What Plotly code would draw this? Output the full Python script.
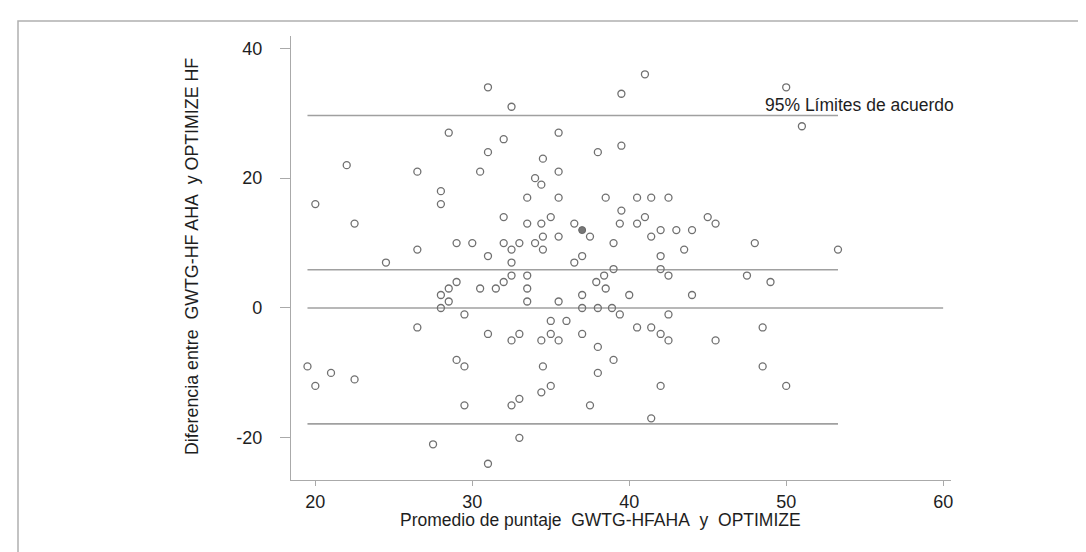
import plotly.graph_objects as go

# Bland-Altman data: average score (x) and difference (y)
avg_score = [31, 28.5, 32, 31, 22, 26.5, 30.5, 41, 39.5, 32.5, 35.5, 34.5, 38, 39.5, 35.5, 34,
             50, 51, 28, 28, 20, 32, 22.5, 32, 29, 30, 31, 26.5, 24.5, 29, 28.5, 28, 28.5, 28,
             30.5, 31.5, 32, 29.5, 34.4, 33.5, 35.5, 38.5, 40.5, 41.4, 42.5, 39.5, 41, 45,
             33.5, 34.4, 35, 36.5, 39.4, 40.5, 37.5, 34.5, 35.5, 42, 43, 44, 41.4, 32.5,
             33, 34, 34.5, 39, 43.5, 42, 32.5, 37, 36.5, 39, 42, 42.5, 32.5, 33.5, 38.4, 37.9,
             38.5, 33.5, 40, 44, 37, 33.5, 35.5, 37, 38, 38.9, 39.4, 42.5, 45.5, 48, 53.3,
             47.5, 49, 26.5, 31, 19.5, 21, 20, 22.5, 29, 29.5, 29.5, 27.5, 31, 35, 36, 33,
             32.5, 35, 34.4, 35.5, 37, 40.5, 41.4, 42, 42.5, 38, 39, 38, 34.5, 35, 34.4, 33,
             32.5, 37.5, 42, 41.4, 33, 48.5, 45.5, 48.5, 50]
diff_score = [34, 27, 26, 24, 22, 21, 21, 36, 33, 31, 27, 23, 24, 25, 21, 20,
              34, 28, 18, 16, 16, 14, 13, 10, 10, 10, 8, 9, 7, 4, 3, 2, 1, 0,
              3, 3, 4, -1, 19, 17, 17, 17, 17, 17, 17, 15, 14, 14,
              13, 13, 14, 13, 13, 13, 11, 11, 11, 12, 12, 12, 11, 9,
              10, 10, 9, 10, 9, 8, 7, 8, 7, 6, 6, 5, 5, 5, 5, 4,
              3, 3, 2, 2, 2, 1, 1, 0, 0, 0, -1, -1, 13, 10, 9,
              5, 4, -3, -4, -9, -10, -12, -11, -8, -9, -15, -21, -24, -2, -2, -4,
              -5, -4, -5, -5, -4, -3, -3, -4, -5, -6, -8, -10, -9, -12, -13, -14,
              -15, -15, -12, -17, -20, -3, -5, -9, -12]
# highlighted (filled) point
filled_x = [37]
filled_y = [12]

mean_diff = 5.9
upper_loa = 29.65
lower_loa = -17.85
zero_line_end = 60

x_ticks = [20, 30, 40, 50, 60]
y_ticks = [-20, 0, 20, 40]
y_tick_labels = ["-20", "0", "20", "40"]

x_title = "Promedio de puntaje\u00a0\u00a0GWTG-HFAHA\u00a0\u00a0y\u00a0\u00a0OPTIMIZE"
y_title = "Diferencia entre\u00a0\u00a0GWTG-HF AHA\u00a0\u00a0y OPTIMIZE HF"
loa_label = "95% Límites de acuerdo"

FONT = "Liberation Sans, Arial, sans-serif"
LINE_C = "#a0a0a0"
AXIS_C = "#aaaaaa"
TXT_C = "#1e1e1e"

x_min = min(avg_score)
x_max = max(avg_score)

fig = go.Figure()

# reference lines
for yv, xend in [(upper_loa, x_max), (mean_diff, x_max), (lower_loa, x_max), (0, zero_line_end)]:
    fig.add_trace(go.Scatter(x=[x_min, xend], y=[yv, yv], mode="lines",
                             line=dict(color=LINE_C, width=1.6), hoverinfo="skip",
                             showlegend=False))

fig.add_trace(go.Scatter(x=avg_score, y=diff_score, mode="markers",
                         marker=dict(symbol="circle-open", size=7,
                                     line=dict(color="#707070", width=1.3), color="#707070"),
                         showlegend=False))
fig.add_trace(go.Scatter(x=filled_x, y=filled_y, mode="markers",
                         marker=dict(symbol="circle", size=7, color="#777777",
                                     line=dict(color="#666666", width=1)),
                         showlegend=False))

L, R, T, B = 283, 143, 28, 80
W, H = 1086, 552
pw, ph = W - L - R, H - T - B

def px_to_paper_x(px):
    return (px - L) / pw

def px_to_paper_y(py):
    return (H - B - py) / ph

fig.add_annotation(x=px_to_paper_x(851), y=px_to_paper_y(97), xref="paper", yref="paper",
                   text=loa_label, showarrow=False, xanchor="center", yanchor="middle",
                   font=dict(family=FONT, size=17.5, color=TXT_C))

fig.add_annotation(x=px_to_paper_x(184), y=px_to_paper_y(249), xref="paper", yref="paper",
                   text=y_title, textangle=-90, showarrow=False,
                   xanchor="center", yanchor="middle",
                   font=dict(family=FONT, size=17.8, color=TXT_C))

fig.add_annotation(x=px_to_paper_x(592), y=px_to_paper_y(512), xref="paper", yref="paper",
                   text=x_title, showarrow=False, xanchor="center", yanchor="middle",
                   font=dict(family=FONT, size=17.5, color=TXT_C))

# outer frame
fig.add_shape(type="rect", xref="paper", yref="paper",
              x0=px_to_paper_x(10), x1=px_to_paper_x(1082),
              y0=px_to_paper_y(600), y1=px_to_paper_y(13),
              line=dict(color="#b0b0b0", width=1.5), fillcolor="rgba(0,0,0,0)", layer="below")

fig.update_layout(
    width=W, height=H,
    margin=dict(l=L, r=R, t=T, b=B, pad=0),
    paper_bgcolor="white", plot_bgcolor="white",
    font=dict(family=FONT, size=18, color=TXT_C),
    showlegend=False,
)
fig.update_xaxes(range=[18.45, 60.5], tickvals=x_ticks, ticks="outside", ticklen=5,
                 tickcolor=AXIS_C, showline=True, linecolor=AXIS_C, linewidth=1.2,
                 showgrid=False, zeroline=False,
                 tickfont=dict(family=FONT, size=18, color=TXT_C))
fig.update_yaxes(range=[-26.5, 41.9], tickvals=y_ticks, ticktext=y_tick_labels,
                 ticks="outside", ticklen=10,
                 tickcolor=AXIS_C, showline=True, linecolor=AXIS_C, linewidth=1.2,
                 showgrid=False, zeroline=False, ticklabelstandoff=14,
                 tickfont=dict(family=FONT, size=18, color=TXT_C))

fig.write_html("out.html")
